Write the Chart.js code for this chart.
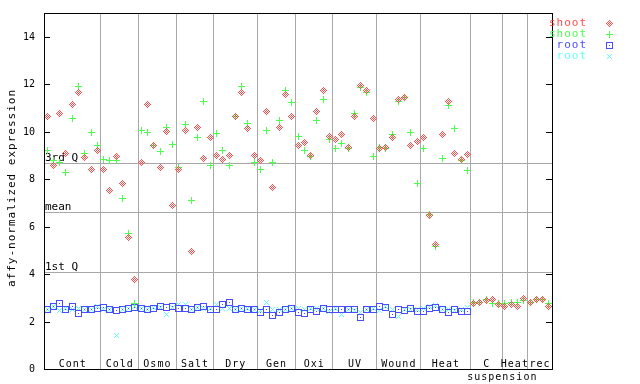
<!DOCTYPE html>
<html>
<head>
<meta charset="utf-8">
<script src="https://cdn.jsdelivr.net/npm/chart.js@4.4.0/dist/chart.umd.min.js"></script>
<style>
  html, body { margin: 0; padding: 0; background: #fff; }
  canvas { display: block; }
</style>
</head>
<body>
<canvas id="affyChart" width="640" height="384"></canvas>
<script>
// conditions along the x axis and how many samples each one has
const groupNames = ['Cont', 'Cold', 'Osmo', 'Salt', 'Dry', 'Gen', 'Oxi', 'UV', 'Wound', 'Heat', 'C', 'Heat', 'rec'];
const groupSizes = [9, 6, 6, 6, 7, 6, 6, 7, 7, 8, 5, 4, 4];
const yTicks = [0, 2, 4, 6, 8, 10, 12, 14];

// summary lines
const refLabels = ['3rd Q', 'mean', '1st Q'];
const refValues = [8.68, 6.61, 4.08];

// shoot (red diamonds)
const shootRed = [
    10.62, 8.59, 10.75, 9.10, 11.13, 11.63, 8.91, 8.42, 9.22,
    8.39, 7.51, 8.97, 7.83, 5.55, 3.78,
    8.72, 11.16, 9.43, 8.48, 10.01, 6.90,
    8.42, 10.07, 4.96, 10.19, 8.89, 9.77,
    9.01, 8.84, 9.01, 10.66, 11.63, 10.14, 9.01,
    8.77, 10.83, 7.66, 10.19, 11.57, 10.66,
    9.43, 9.53, 9.01, 10.87, 11.75, 9.81,
    9.69, 9.86, 9.35, 10.62, 11.94, 11.73, 10.57,
    9.27, 9.35, 9.77, 11.37, 11.46, 9.43, 9.60,
    9.77, 6.48, 5.26, 9.86, 11.29, 9.10, 8.84, 9.05,
    2.78, 2.80, 2.88, 2.94, 2.70,
    2.63, 2.73, 2.63, 2.97,
    2.82, 2.91, 2.91, 2.63
];

// shoot (green crosses)
const shootGreen = [
    9.19, 8.80, 8.72, 8.30, 10.57, 11.89, 9.10, 9.98, 9.43,
    8.81, 8.77, 8.77, 7.17, 5.72, 2.77,
    10.07, 9.98, 9.43, 9.17, 10.16, 9.48,
    8.51, 10.29, 7.11, 9.77, 11.29, 8.59,
    9.94, 9.22, 8.59, 10.66, 11.89, 10.33, 8.68,
    8.42, 10.03, 8.72, 10.49, 11.75, 11.25,
    9.81, 9.22, 8.97, 10.49, 11.37, 9.69,
    9.31, 9.52, 9.31, 10.75, 11.84, 11.67, 8.97,
    9.35, 9.27, 9.90, 11.29, 11.46, 9.98, 7.83,
    9.27, 6.52, 5.17, 8.89, 11.12, 10.15, 8.80, 8.38,
    2.80, 2.81, 2.91, 2.78, 2.78,
    2.78, 2.81, 2.81, 2.87,
    2.80, 2.94, 2.91, 2.78
];

// root (blue squares) - no root samples for the suspension cultures
const rootBlue = [
    2.52, 2.62, 2.77, 2.49, 2.62, 2.35, 2.49, 2.52, 2.57,
    2.60, 2.52, 2.46, 2.49, 2.54, 2.60,
    2.54, 2.52, 2.57, 2.65, 2.60, 2.63,
    2.54, 2.54, 2.49, 2.60, 2.65, 2.49,
    2.49, 2.70, 2.82, 2.49, 2.54, 2.52, 2.52,
    2.40, 2.52, 2.26, 2.37, 2.49, 2.54,
    2.40, 2.35, 2.52, 2.43, 2.57, 2.49,
    2.49, 2.49, 2.49, 2.49, 2.18, 2.49, 2.49,
    2.65, 2.60, 2.29, 2.52, 2.46, 2.54, 2.43,
    2.43, 2.54, 2.60, 2.52, 2.40, 2.52, 2.43, 2.43
];

// root (cyan x)
const rootCyan = [
    2.52, 2.62, 2.46, 2.54, 2.52, 2.54, 2.49, 2.52, 2.65,
    2.52, 2.52, 1.42, 2.52, 2.57, 2.63,
    2.57, 2.52, 2.60, 2.60, 2.31, 2.60,
    2.71, 2.70, 2.49, 2.60, 2.54, 2.57,
    2.71, 2.54, 2.54, 2.49, 2.54, 2.54, 2.52,
    2.46, 2.82, 2.49, 2.52, 2.52, 2.54,
    2.54, 2.52, 2.54, 2.54, 2.57, 2.43,
    2.57, 2.29, 2.49, 2.46, 2.37, 2.52, 2.57,
    2.46, 2.62, 2.52, 2.21, 2.49, 2.52, 2.49,
    2.57, 2.63, 2.68, 2.49, 2.52, 2.46, 2.52, 2.60
];

const FONT = '"DejaVu Sans Mono", "Liberation Mono", monospace';
const GRID = '#a8a8a8';

// little pixel markers, like the old gd plots
function makeSprite(rows, color) {
    const c = document.createElement('canvas');
    c.width = rows[0].length;
    c.height = rows.length;
    const g = c.getContext('2d');
    g.fillStyle = color;
    rows.forEach((r, y) => {
        for (let x = 0; x < r.length; x++) {
            if (r[x] === 'x') g.fillRect(x, y, 1, 1);
        }
    });
    return c;
}

const diamond = ['...x...', '..x.x..', '.x.x.x.', 'x.x.x.x', '.x.x.x.', '..x.x..', '...x...'];
const plus    = ['...x...', '...x...', '...x...', 'xxxxxxx', '...x...', '...x...', '...x...'];
const square  = ['xxxxxxx', 'x.....x', 'x.....x', 'x..x..x', 'x.....x', 'x.....x', 'xxxxxxx'];
const cross   = ['x...x', '.x.x.', '..x..', '.x.x.', 'x...x'];

const series = [
    { label: 'shoot', data: shootRed,   color: '#ff4c4c', sprite: diamond },
    { label: 'shoot', data: shootGreen, color: '#4cff4c', sprite: plus },
    { label: 'root',  data: rootBlue,   color: '#4c4cff', sprite: square },
    { label: 'root',  data: rootCyan,   color: '#66ffff', sprite: cross }
];
series.forEach(s => { s.image = makeSprite(s.sprite, s.color); });

function line(ctx, x1, y1, x2, y2) {
    ctx.beginPath();
    ctx.moveTo(x1, y1);
    ctx.lineTo(x2, y2);
    ctx.stroke();
}

const framePlugin = {
    id: 'frame',
    beforeDatasetsDraw(chart) {
        const { ctx, chartArea: a, scales: { x, y } } = chart;
        ctx.imageSmoothingEnabled = false;
        ctx.save();
        ctx.strokeStyle = GRID;
        ctx.lineWidth = 1;

        // separators between conditions
        let pos = 0;
        groupSizes.slice(0, -1).forEach(n => {
            pos += n;
            const px = Math.round(x.getPixelForValue(pos)) + 0.5;
            line(ctx, px, a.top, px, a.bottom);
        });

        // quartile / mean lines
        refValues.forEach((v, i) => {
            const py = Math.round(y.getPixelForValue(v)) + 0.5;
            line(ctx, a.left, py, a.right, py);
            ctx.fillStyle = '#000';
            ctx.font = '11px ' + FONT;
            ctx.textAlign = 'left';
            ctx.textBaseline = 'alphabetic';
            ctx.fillText(refLabels[i], a.left + 1, py - 3);
        });
        ctx.restore();
    },
    afterDatasetsDraw(chart) {
        const { ctx, chartArea: a, scales: { x, y } } = chart;
        ctx.save();
        ctx.strokeStyle = '#000';
        ctx.lineWidth = 1;
        ctx.strokeRect(a.left + 0.5, a.top + 0.5, a.right - a.left, a.bottom - a.top);

        // inward ticks on both sides, labels only on the left
        ctx.fillStyle = '#000';
        ctx.font = '10px ' + FONT;
        ctx.textAlign = 'right';
        ctx.textBaseline = 'middle';
        yTicks.forEach(t => {
            const py = Math.round(y.getPixelForValue(t)) + 0.5;
            line(ctx, a.left, py, a.left + 6, py);
            line(ctx, a.right - 6, py, a.right, py);
            ctx.fillText(String(t), a.left - 9, py);
        });

        // condition names
        ctx.font = '10px ' + FONT;
        ctx.letterSpacing = '1px';
        ctx.textAlign = 'center';
        let start = 0;
        groupNames.forEach((name, i) => {
            const mid = x.getPixelForValue(start + groupSizes[i] / 2);
            ctx.fillText(name, mid + 0.5, a.bottom - 5);
            start += groupSizes[i];
        });
        const suspStart = groupSizes.slice(0, 10).reduce((s, n) => s + n, 0);
        ctx.fillText('suspension', x.getPixelForValue(suspStart + groupSizes[10]) + 0.5, a.bottom + 8);

        // y axis title
        ctx.save();
        ctx.translate(12, (a.top + a.bottom) / 2 - 3);
        ctx.rotate(-Math.PI / 2);
        ctx.font = '11px ' + FONT;
        ctx.letterSpacing = '1px';
        ctx.fillText('affy-normalized expression', 0, 0);
        ctx.restore();

        // legend to the right of the plot
        ctx.letterSpacing = '1px';
        ctx.font = '11px ' + FONT;
        ctx.textAlign = 'right';
        series.forEach((s, i) => {
            const ly = 23.5 + i * 11;
            ctx.fillStyle = s.color;
            ctx.fillText(s.label, 587, ly);
            ctx.drawImage(s.image, Math.round(609.5 - s.image.width / 2), Math.round(ly - s.image.height / 2));
        });
        ctx.restore();
    }
};

new Chart(document.getElementById('affyChart'), {
    type: 'scatter',
    data: {
        datasets: series.map(s => ({
            label: s.label,
            data: s.data.map((v, i) => ({ x: i + 0.5, y: v })),
            pointStyle: s.image,
            borderColor: s.color,
            backgroundColor: s.color
        }))
    },
    options: {
        responsive: false,
        animation: false,
        layout: { padding: { left: 44, top: 13, right: 88, bottom: 15 } },
        scales: {
            x: { type: 'linear', min: 0, max: 81, display: false },
            y: { type: 'linear', min: 0, max: 15, display: false }
        },
        plugins: {
            legend: { display: false },
            tooltip: { enabled: false }
        }
    },
    plugins: [framePlugin]
});
</script>
</body>
</html>
